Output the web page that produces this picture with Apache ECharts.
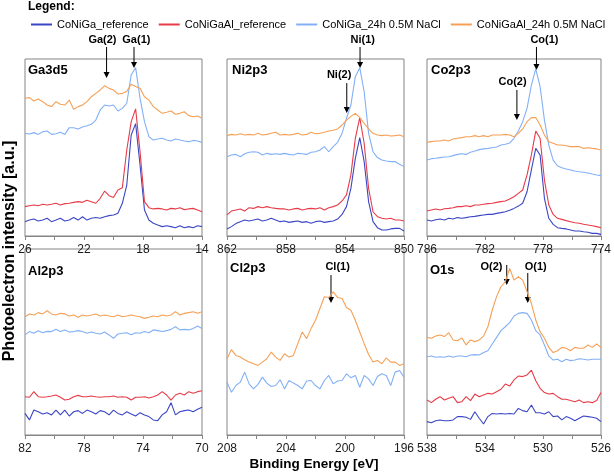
<!DOCTYPE html>
<html><head><meta charset="utf-8">
<script src="https://cdn.jsdelivr.net/npm/echarts@6/dist/echarts.min.js"></script>
<style>html,body{margin:0;padding:0;background:#fff}#c{width:614px;height:473px}</style>
</head><body><div id="c"></div>
<script>
// ---------------- data ----------------
const seriesNames = ['CoNiGa_reference','CoNiGaAl_reference','CoNiGa_24h 0.5M NaCl','CoNiGaAl_24h 0.5M NaCl'];
const colors = ['#3a46c4','#e63c48','#82b0f6','#f5a056'];

const gaE = [26,25.7,25.4,25.1,24.8,24.5,24.2,23.9,23.6,23.3,23,22.7,22.4,22.1,21.8,21.5,21.2,20.9,20.6,20.3,20,19.7,19.4,19.1,18.8,18.5,18.2,17.9,17.6,17.3,17,16.7,16.4,16.1,15.8,15.5,15.2,14.9,14.6,14.3,14];
const gaCoNiGaRef = [8.1,9.0,9.6,8.5,9.0,10.0,8.1,9.0,10.0,8.5,9.0,10.4,9.0,10.9,9.0,10.0,10.5,10.0,10.9,11.5,11.9,12.8,18.5,28.8,57.1,63.5,40.1,14.7,9.0,7.2,6.2,5.3,5.8,5.3,4.7,5.8,4.7,5.3,4.7,5.8,5.3];
const gaCoNiGaAlRef = [16.6,17.1,17.5,17.1,17.9,17.5,17.9,18.5,17.5,18.3,18.5,19.0,19.4,19.0,20.2,19.4,18.5,21.3,25.4,22.8,21.7,26.0,27.3,48.6,64.6,71.8,47.6,19.4,16.0,15.3,15.6,15.3,14.7,15.6,15.3,16.0,14.9,15.3,15.6,14.7,13.7];
const gaCoNiGaNaCl = [58.0,57.6,58.4,57.4,58.9,59.3,57.4,57.8,58.6,57.4,61.2,61.2,60.5,61.6,62.3,63.1,65.5,71.2,74.0,73.4,74.0,70.6,72.1,75.0,91.0,95.1,77.8,64.6,56.1,54.2,54.8,55.2,54.2,53.7,54.8,54.2,53.7,53.3,54.0,53.7,52.9];
const gaCoNiGaAlNaCl = [77.8,78.2,76.3,77.4,75.9,74.0,73.1,75.9,74.4,74.0,76.8,71.6,73.1,74.0,75.9,78.7,80.6,82.5,84.9,83.4,82.5,80.2,80.6,81.7,85.7,84.4,83.4,78.7,76.8,73.1,71.2,69.3,69.9,70.6,68.8,69.3,70.2,68.0,67.4,67.8,66.5];

const niE = [862,861.7,861.4,861.1,860.8,860.5,860.2,859.9,859.6,859.3,859,858.7,858.4,858.1,857.8,857.5,857.2,856.9,856.6,856.3,856,855.7,855.4,855.1,854.8,854.5,854.2,853.9,853.6,853.3,853,852.7,852.4,852.1,851.8,851.5,851.2,850.9,850.6,850.3,850];
const niCoNiGaRef = [4.0,5.3,7.0,8.1,9.0,8.5,9.0,9.6,8.5,9.0,10.0,9.0,8.1,8.5,7.7,8.1,8.5,7.7,8.1,7.2,8.1,8.5,7.7,8.1,8.5,9.6,12.2,16.6,26.9,43.9,55.6,42.0,19.4,8.1,4.7,3.4,3.4,4.0,4.3,4.3,2.8];
const niCoNiGaAlRef = [11.9,14.1,14.7,15.3,14.1,16.0,15.6,16.6,16.0,16.6,16.0,15.6,15.3,15.3,14.7,15.3,15.6,14.7,15.3,15.6,15.3,16.0,14.7,16.0,16.6,17.5,19.8,23.2,34.5,55.2,66.9,52.4,26.9,13.7,10.9,10.0,9.6,10.0,9.0,9.0,8.5];
const niCoNiGaNaCl = [44.8,45.8,46.1,44.8,46.5,47.3,47.6,47.3,45.8,46.7,46.1,46.5,46.1,46.7,46.1,45.8,46.7,46.5,46.1,47.3,47.6,48.6,50.5,47.6,50.5,52.9,58.0,66.5,74.0,90.0,95.1,81.5,58.0,47.6,44.3,42.9,42.4,42.0,42.0,40.5,39.2];
const niCoNiGaAlNaCl = [56.7,57.4,57.1,57.8,57.1,57.4,57.1,58.0,57.1,57.4,58.0,58.6,57.1,57.4,57.1,57.4,58.0,57.1,57.4,58.6,57.8,58.0,58.6,59.3,59.7,60.5,62.7,65.5,67.6,69.3,66.9,63.7,60.5,58.0,57.1,56.7,57.1,56.5,56.7,57.1,56.1];

const coE = [786,785.7,785.4,785.1,784.8,784.5,784.2,783.9,783.6,783.3,783,782.7,782.4,782.1,781.8,781.5,781.2,780.9,780.6,780.3,780,779.7,779.4,779.1,778.8,778.5,778.2,777.9,777.6,777.3,777,776.7,776.4,776.1,775.8,775.5,775.2,774.9,774.6,774.3,774];
const coCoNiGaRef = [9.0,8.5,9.2,9.6,9.0,10.0,9.6,10.4,10.0,10.4,10.9,11.1,11.5,11.9,12.2,12.2,12.8,13.2,13.7,14.5,15.6,16.9,18.5,25.0,37.3,49.5,45.8,21.3,10.0,6.6,4.7,4.3,4.0,3.4,2.8,2.8,2.4,2.1,1.5,1.5,0.9];
const coCoNiGaAlRef = [14.1,14.7,15.3,14.7,15.4,15.6,16.0,16.6,16.6,17.1,16.6,17.5,17.5,17.9,18.3,18.5,19.0,19.4,19.8,20.9,22.2,24.1,26.0,34.5,45.8,59.3,55.2,31.6,17.5,12.2,10.0,9.4,8.7,8.1,7.5,7.2,6.6,6.2,5.8,5.3,4.7];
const coCoNiGaNaCl = [42.9,43.7,43.9,44.3,44.6,44.8,45.4,46.1,46.5,46.1,47.3,48.0,48.8,49.2,49.5,49.9,50.3,51.4,51.8,52.5,55.2,59.3,64.6,72.1,85.3,94.4,84.4,65.5,51.4,42.9,39.7,38.6,37.9,37.3,36.7,36.3,36.0,35.6,35.0,34.5,34.1];
const coCoNiGaAlNaCl = [52.9,53.3,53.7,53.7,54.2,53.7,54.8,55.2,55.6,56.1,56.1,56.7,56.1,56.7,56.1,57.1,57.1,57.1,57.4,57.1,56.1,58.0,60.5,64.6,66.9,66.9,62.7,57.1,53.3,52.4,51.4,51.4,51.0,50.5,50.5,50.5,49.5,49.9,49.5,49.2,48.6];

const alE = [82,81.7,81.4,81.1,80.8,80.5,80.2,79.9,79.6,79.3,79,78.7,78.4,78.1,77.8,77.5,77.2,76.9,76.6,76.3,76,75.7,75.4,75.1,74.8,74.5,74.2,73.9,73.6,73.3,73,72.7,72.4,72.1,71.8,71.5,71.2,70.9,70.6,70.3,70];
const alCoNiGaRef = [11.6,8.1,13.4,12.5,11.3,12.0,10.8,13.4,10.8,13.4,10.2,12.5,13.1,11.6,13.4,12.5,11.3,13.1,12.5,10.8,13.4,11.6,10.8,12.5,11.3,10.2,12.0,10.8,9.9,8.1,7.7,10.8,12.5,17.4,10.8,12.5,13.1,13.4,12.5,13.8,14.9];
const alCoNiGaAlRef = [20.6,20.3,23.3,20.6,20.3,20.6,21.0,21.5,20.3,18.8,19.2,20.6,21.3,20.6,20.6,21.0,20.6,20.3,20.6,20.6,21.0,20.3,20.6,20.3,18.8,20.3,20.3,20.6,19.9,20.6,21.5,23.3,21.5,18.8,21.5,22.4,21.5,23.3,22.4,23.3,23.8];
const alCoNiGaNaCl = [53.8,55.6,54.7,56.1,55.0,55.7,55.6,56.8,55.7,56.5,55.4,55.6,56.1,55.6,54.7,55.4,54.7,54.3,55.4,53.8,52.0,54.3,54.7,55.0,53.9,55.0,54.7,55.6,55.0,56.5,56.1,55.6,56.1,56.8,58.2,56.5,56.8,56.5,57.3,58.6,57.3];
const alCoNiGaAlNaCl = [63.6,65.1,64.5,65.8,65.1,66.8,65.1,64.5,65.4,65.1,64.0,64.5,63.3,64.5,64.0,64.5,65.1,64.0,64.5,64.0,63.6,64.5,63.6,64.0,64.5,64.0,63.6,62.7,63.3,64.0,63.6,64.5,64.0,64.5,66.3,64.5,65.4,65.8,66.3,65.4,66.3];

const clE = [208,207.7,207.4,207.1,206.8,206.5,206.2,205.9,205.6,205.3,205,204.7,204.4,204.1,203.8,203.5,203.2,202.9,202.6,202.3,202,201.7,201.4,201.1,200.8,200.5,200.2,199.9,199.6,199.3,199,198.7,198.4,198.1,197.8,197.5,197.2,196.9,196.6,196.3,196];
const clCoNiGaNaCl = [28.4,23.0,26.6,28.4,33.8,27.5,24.8,27.2,31.1,27.9,26.1,26.6,29.7,24.8,29.3,27.9,26.6,24.8,29.0,29.3,26.6,24.8,29.3,32.0,27.5,29.0,29.3,32.9,30.8,32.0,25.7,32.0,30.2,26.6,31.5,32.9,32.0,26.6,33.8,34.7,31.1];
const clCoNiGaAlNaCl = [41.0,45.9,42.8,41.9,40.5,39.2,38.3,37.4,39.2,41.0,44.6,41.9,40.1,43.7,41.9,42.8,49.1,55.4,51.8,57.2,61.7,68.0,74.3,73.9,77.0,73.9,73.4,68.5,67.1,61.7,55.4,49.1,43.3,39.2,40.1,38.3,41.5,39.2,39.2,37.4,38.3];

const oE = [538,537.7,537.4,537.1,536.8,536.5,536.2,535.9,535.6,535.3,535,534.7,534.4,534.1,533.8,533.5,533.2,532.9,532.6,532.3,532,531.7,531.4,531.1,530.8,530.5,530.2,529.9,529.6,529.3,529,528.7,528.4,528.1,527.8,527.5,527.2,526.9,526.6,526.3,526];
const oCoNiGaRef = [7.2,6.6,7.7,8.1,7.7,7.7,8.1,9.9,9.9,9.5,8.4,12.5,9.0,5.9,9.9,11.6,11.3,11.6,11.3,11.6,11.3,14.3,13.1,12.5,16.1,12.0,12.0,11.3,12.5,9.9,10.2,8.1,9.9,9.0,7.7,9.0,10.2,9.9,9.5,9.0,7.2];
const oCoNiGaAlRef = [18.8,17.4,19.2,20.6,18.8,19.7,20.6,17.4,17.9,20.6,18.5,22.0,20.6,21.5,22.4,22.0,23.3,24.6,27.4,26.3,29.6,31.7,31.4,32.3,34.9,29.2,25.1,22.8,22.0,22.4,20.6,19.2,19.2,18.5,17.9,18.8,17.4,17.9,17.4,18.5,22.8];
const oCoNiGaNaCl = [42.1,42.5,41.8,42.1,41.8,42.5,41.8,42.5,42.5,42.1,43.0,43.2,43.0,44.3,45.3,48.9,52.5,56.1,58.2,60.4,64.0,65.4,65.8,65.4,61.8,56.1,53.8,48.4,42.5,40.3,40.7,39.4,40.7,40.0,40.3,41.0,40.7,40.3,40.7,40.7,40.7];
const oCoNiGaAlNaCl = [52.5,52.0,53.2,53.8,52.9,55.0,51.1,50.7,52.2,48.4,51.1,50.2,51.1,53.2,58.2,67.2,74.4,79.7,82.4,89.6,83.3,85.1,83.3,77.1,70.8,61.8,55.6,52.0,47.1,44.3,45.3,47.1,46.6,45.3,47.1,46.6,46.6,48.4,47.1,48.9,47.1];

const panelTitles = ['Ga3d5','Ni2p3','Co2p3','Al2p3','Cl2p3','O1s'];
const xMaxs = [26, 862, 786, 82, 208, 538];
const xMins = [14, 850, 774, 70, 196, 526];

// peak annotations: label, arrow energy, arrow top, arrow tip, label energy, label height
const gaAnnot = [['Ga(2)',20.47,106.8,89.3,20.75,110.5],['Ga(1)',18.61,106.8,94.9,18.45,110.5]];
const niAnnot = [['Ni(1)',852.98,106.8,94.9,852.8,110.5],['Ni(2)',853.88,86.4,69.5,854.4,90.8]];
const coAnnot = [['Co(1)',778.45,106.8,93.8,777.9,110.5],['Co(2)',779.8,82.5,65.5,780.1,87.2]];
const alAnnot = [];
const clAnnot = [['Cl(1)',200.95,86.0,71.0,200.5,90.6]];
const oAnnot = [['O(2)',532.5,91.4,80.6,533.55,90.6],['O(1)',531.05,87.1,71.0,530.5,90.6]];

// ---------------- chart ----------------
const panels = [
  {E: gaE, s: [gaCoNiGaRef, gaCoNiGaAlRef, gaCoNiGaNaCl, gaCoNiGaAlNaCl], a: gaAnnot},
  {E: niE, s: [niCoNiGaRef, niCoNiGaAlRef, niCoNiGaNaCl, niCoNiGaAlNaCl], a: niAnnot},
  {E: coE, s: [coCoNiGaRef, coCoNiGaAlRef, coCoNiGaNaCl, coCoNiGaAlNaCl], a: coAnnot},
  {E: alE, s: [alCoNiGaRef, alCoNiGaAlRef, alCoNiGaNaCl, alCoNiGaAlNaCl], a: alAnnot},
  {E: clE, s: [null, null, clCoNiGaNaCl, clCoNiGaAlNaCl], a: clAnnot},
  {E: oE, s: [oCoNiGaRef, oCoNiGaAlRef, oCoNiGaNaCl, oCoNiGaAlNaCl], a: oAnnot}
];
const gridPos = [
  {left:25, top:59, width:177, height:177},
  {left:227, top:59, width:177, height:177},
  {left:427, top:59, width:176, height:177},
  {left:25, top:249, width:177, height:186},
  {left:227, top:249, width:177, height:186},
  {left:427, top:249, width:176, height:186}
];
const titlePos = [[28,70],[232,70],[431,70],[28,271],[230,268],[430,270]];
const FRAME = '#858585';
const FONT = '"Liberation Sans", Arial, sans-serif';

const grids = gridPos.map(g => Object.assign({show:true, borderColor:FRAME, borderWidth:1, backgroundColor:'transparent'}, g));
const xAxes = panels.map((p, i) => ({
  type:'value', gridIndex:i, min:xMins[i], max:xMaxs[i], interval:2, inverse:true,
  axisLine:{show:true, onZero:false, lineStyle:{color:FRAME, width:1}},
  axisTick:{show:true, inside:false, length:4, lineStyle:{color:FRAME}},
  axisLabel:{show:true, showMinLabel:true, showMaxLabel:true, margin:8, fontSize:12, color:'#1a1a1a', fontFamily:FONT,
    formatter: v => ((xMaxs[i] - v) % 4 === 0 ? String(v) : '')},
  splitLine:{show:false}
}));
const yAxes = panels.map((p, i) => ({type:'value', gridIndex:i, min:0, max:100, show:false, splitLine:{show:false}}));

const series = [];
panels.forEach((p, i) => {
  p.s.forEach((vals, k) => {
    if (!vals) return;
    series.push({
      name: seriesNames[k], type:'line', xAxisIndex:i, yAxisIndex:i,
      data: p.E.map((e, j) => [e, vals[j]]),
      showSymbol:false, symbol:'none', clip:false,
      lineStyle:{color:colors[k], width:1.1}, itemStyle:{color:colors[k]},
      silent:true
    });
  });
});

const baseGraphics = [
  {type:'text', left:28, top:1, style:{text:'Legend:', font:'bold 12px ' + FONT, fill:'#000'}},
  {type:'text', x:314, y:464, style:{text:'Binding Energy [eV]', font:'bold 13.5px ' + FONT, fill:'#000', textAlign:'center', textVerticalAlign:'middle'}},
  {type:'text', x:10, y:251, rotation:Math.PI/2, style:{text:'Photoelectron intensity [a.u.]', font:'bold 16px ' + FONT, fill:'#000', textAlign:'center', textVerticalAlign:'middle'}}
].concat(panelTitles.map((t, i) => ({type:'text', x:titlePos[i][0], y:titlePos[i][1], style:{text:t, font:'bold 13px ' + FONT, fill:'#000', textVerticalAlign:'middle'}})));

const chart = echarts.init(document.getElementById('c'), null, {renderer:'canvas'});
chart.setOption({
  animation:false,
  backgroundColor:'#fff',
  legend:{data:seriesNames, left:26, top:14, itemWidth:21, itemHeight:2, itemGap:10, icon:'rect',
    textStyle:{fontSize:11, color:'#000', fontFamily:FONT}},
  grid:grids, xAxis:xAxes, yAxis:yAxes, series:series, graphic:baseGraphics
});

// annotation arrows placed through the axes' own scales
const annotGraphics = [];
panels.forEach((p, i) => {
  p.a.forEach(a => {
    const top = chart.convertToPixel({gridIndex:i}, [a[1], a[2]]);
    const tip = chart.convertToPixel({gridIndex:i}, [a[1], a[3]]);
    const lab = chart.convertToPixel({gridIndex:i}, [a[4], a[5]]);
    annotGraphics.push({type:'line', silent:true, shape:{x1:top[0], y1:top[1], x2:tip[0], y2:tip[1]-4}, style:{stroke:'#000', lineWidth:1}});
    annotGraphics.push({type:'polygon', silent:true, shape:{points:[[tip[0]-3, tip[1]-6],[tip[0]+3, tip[1]-6],[tip[0], tip[1]]]}, style:{fill:'#000'}});
    annotGraphics.push({type:'text', silent:true, x:lab[0], y:lab[1], style:{text:a[0], font:'bold 11px ' + FONT, fill:'#000', textAlign:'center', textVerticalAlign:'middle'}});
  });
});
chart.setOption({graphic: baseGraphics.concat(annotGraphics)});
</script></body></html>
